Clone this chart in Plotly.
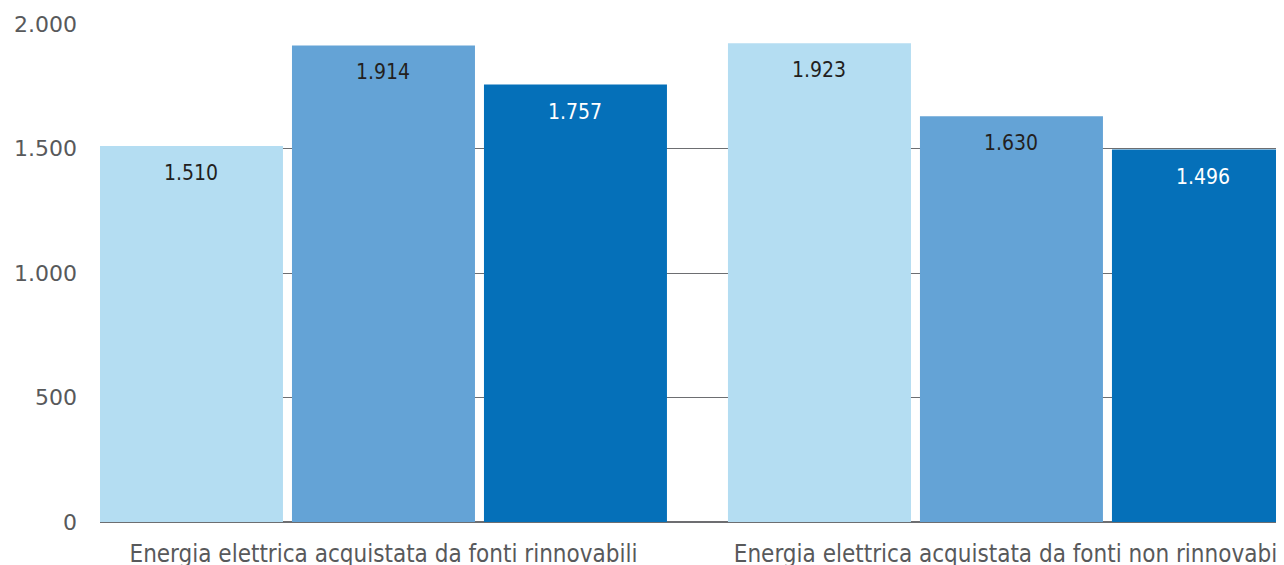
import plotly.graph_objects as go

categories = [
    "Energia elettrica acquistata da fonti rinnovabili",
    "Energia elettrica acquistata da fonti non rinnovabili",
]
series_names = ["2021", "2022", "2023"]
values_s1 = [1510, 1923]
values_s2 = [1914, 1630]
values_s3 = [1757, 1496]
y_ticks = [0, 500, 1000, 1500, 2000]

series_values = [values_s1, values_s2, values_s3]
colors = ["#B4DDF2", "#64A3D6", "#0570B9"]
label_colors = ["#231F20", "#231F20", "#FFFFFF"]

fig = go.Figure()
for name, vals, col in zip(series_names, series_values, colors):
    fig.add_trace(go.Bar(
        x=categories, y=vals, name=name,
        marker=dict(color=col, line=dict(width=0)),
        showlegend=False, hoverinfo="skip",
    ))

slot_px = 192
for j, (vals, lc) in enumerate(zip(series_values, label_colors)):
    for cat, v in zip(categories, vals):
        fig.add_annotation(
            x=cat, y=v, xref="x", yref="y",
            text=f"{v:,}".replace(",", "."),
            showarrow=False, xanchor="center", yanchor="middle",
            xshift=(j - 1) * slot_px, yshift=-27,
            font=dict(family="DejaVu Sans Condensed", size=21, color=lc),
        )

fig.update_layout(
    width=1276, height=557,
    margin=dict(l=92, r=0, t=16, b=43, autoexpand=False),
    paper_bgcolor="white", plot_bgcolor="white",
    barmode="group", bargap=0.0828, bargroupgap=0.0469,
    separators=",.",
    font=dict(family="DejaVu Sans", color="#58595B"),
)
fig.update_xaxes(
    type="category", range=[-0.4514, 1.4340], automargin=False,
    showgrid=False, showline=False, zeroline=False,
    ticks="", ticklabelstandoff=15,
    tickfont=dict(family="DejaVu Sans Condensed", size=24, color="#58595B"),
)
fig.update_yaxes(
    range=[0, 2000], tickvals=y_ticks, tickformat=",", automargin=False,
    showgrid=True, gridcolor="#6D6E71", gridwidth=1.2,
    zeroline=True, zerolinecolor="#6D6E71", zerolinewidth=2,
    showline=False, ticks="", ticklabelstandoff=22,
    tickfont=dict(family="DejaVu Sans", size=22, color="#58595B"),
)

fig.write_html("out.html")
